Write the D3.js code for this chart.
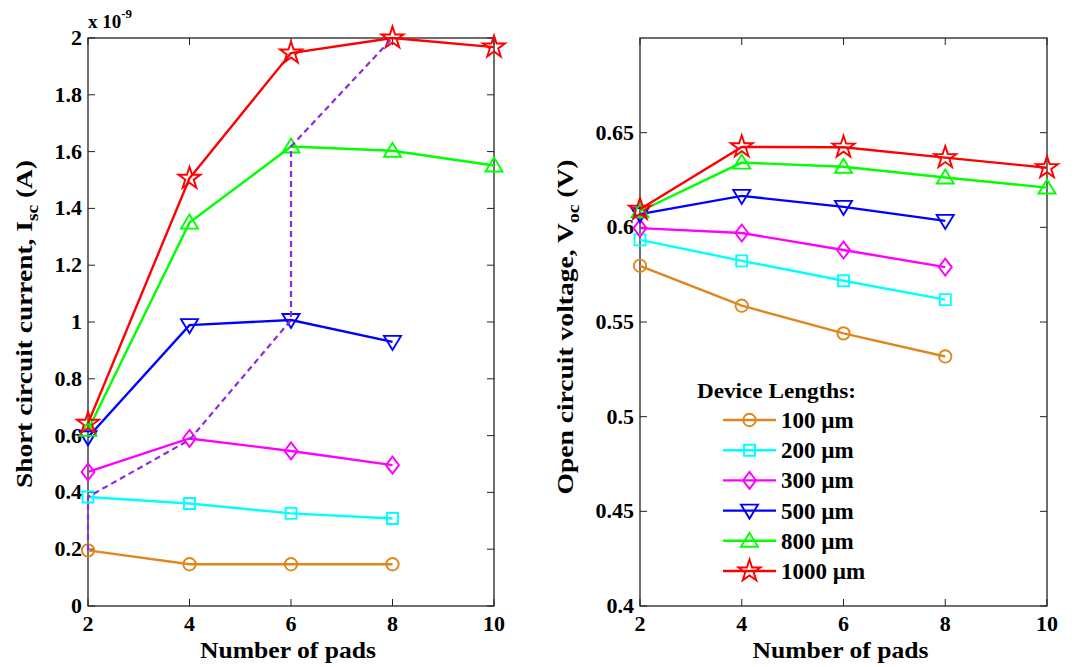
<html>
<head>
<meta charset="utf-8">
<script src="https://cdn.jsdelivr.net/npm/d3@7"></script>
<style>
  body { margin: 0; background: #fff; }
</style>
</head>
<body>
<div id="chart"></div>
<script>
// x values (number of pads)
var pads = [2, 4, 6, 8, 10];
var deviceLengths = ["100 \u00b5m", "200 \u00b5m", "300 \u00b5m", "500 \u00b5m", "800 \u00b5m", "1000 \u00b5m"];
var colors = ["#e0861c", "#00ffff", "#ff00ff", "#0000ff", "#00ff00", "#ff0000"];
var shapes = ["circle", "square", "diamond", "down", "up", "star"];

// short circuit current (x 1e-9 A)
var isc100 = [0.196, 0.147, 0.147, 0.147];
var isc200 = [0.384, 0.361, 0.326, 0.308];
var isc300 = [0.472, 0.590, 0.546, 0.496];
var isc500 = [0.594, 0.989, 1.007, 0.930];
var isc800 = [0.620, 1.350, 1.618, 1.603, 1.551];
var isc1000 = [0.643, 1.506, 1.947, 2.000, 1.968];

// dashed path through the best points
var iscPathX = [2, 2, 4, 6, 6, 8];
var iscPathY = [0.196, 0.384, 0.585, 1.007, 1.618, 2.000];

// open circuit voltage (V)
var voc100 = [0.5797, 0.5586, 0.5440, 0.5318];
var voc200 = [0.5934, 0.5823, 0.5718, 0.5618];
var voc300 = [0.5996, 0.5970, 0.5880, 0.5790];
var voc500 = [0.6070, 0.6166, 0.6108, 0.6034];
var voc800 = [0.6085, 0.6342, 0.6320, 0.6263, 0.6210];
var voc1000 = [0.6095, 0.6425, 0.6423, 0.6368, 0.6315];

var iscTicks = [0, 0.2, 0.4, 0.6, 0.8, 1, 1.2, 1.4, 1.6, 1.8, 2];
var vocTicks = [0.4, 0.45, 0.5, 0.55, 0.6, 0.65];
var xTicks = [2, 4, 6, 8, 10];

var svg = d3.select("#chart").append("svg")
  .attr("width", 1080).attr("height", 667)
  .style("font-family", "'Liberation Serif', 'DejaVu Serif', 'Times New Roman', serif")
  .style("font-weight", "bold");

function markerPath(shape) {
  if (shape == "star") return d3.symbol(d3.symbolStar, 150)();
  if (shape == "square") return "M-5.5,-5.5L5.5,-5.5L5.5,5.5L-5.5,5.5Z";
  if (shape == "diamond") return "M0,-8.5L6.5,0L0,8.5L-6.5,0Z";
  if (shape == "down") return "M-8.5,-6L8.5,-6L0,8Z";
  if (shape == "up") return "M-8.5,6L8.5,6L0,-8Z";
  return d3.symbol(d3.symbolCircle, 120)();
}

function drawPanel(opts) {
  var x = d3.scaleLinear().domain([2, 10]).range([opts.left, opts.right]);
  var y = d3.scaleLinear().domain(opts.yDomain).range([606, 38]);
  var g = svg.append("g");

  // box
  g.append("rect")
    .attr("x", x(2)).attr("y", y.range()[1])
    .attr("width", x(10) - x(2)).attr("height", 606 - 38)
    .attr("fill", "none").attr("stroke", "#222").attr("stroke-width", 1.3);

  // inward ticks on all four sides
  xTicks.forEach(function (t) {
    g.append("line").attr("x1", x(t)).attr("x2", x(t)).attr("y1", 606).attr("y2", 599)
      .attr("stroke", "#222");
    g.append("line").attr("x1", x(t)).attr("x2", x(t)).attr("y1", 38).attr("y2", 45)
      .attr("stroke", "#222");
    g.append("text").attr("x", x(t)).attr("y", 631)
      .attr("text-anchor", "middle").style("font-size", "22px").text(t);
  });
  opts.yTicks.forEach(function (t) {
    g.append("line").attr("x1", x(2)).attr("x2", x(2) + 7).attr("y1", y(t)).attr("y2", y(t))
      .attr("stroke", "#222");
    g.append("line").attr("x1", x(10)).attr("x2", x(10) - 7).attr("y1", y(t)).attr("y2", y(t))
      .attr("stroke", "#222");
    g.append("text").attr("x", x(2) - 6).attr("y", y(t) + 7)
      .attr("text-anchor", "end").style("font-size", "22px").text(t);
  });

  // series
  var line = d3.line().x(function (d) { return x(d[0]); }).y(function (d) { return y(d[1]); });
  opts.series.forEach(function (vals, i) {
    var pts = vals.map(function (v, j) { return [pads[j], v]; });
    g.append("path").attr("d", line(pts))
      .attr("fill", "none").attr("stroke", colors[i]).attr("stroke-width", 2.4);
    pts.forEach(function (p) {
      g.append("path").attr("d", markerPath(shapes[i]))
        .attr("transform", "translate(" + x(p[0]) + "," + y(p[1]) + ")")
        .attr("fill", "none").attr("stroke", colors[i]).attr("stroke-width", 1.9);
    });
  });

  if (opts.path) {
    var pts = opts.path[0].map(function (v, j) { return [v, opts.path[1][j]]; });
    g.append("path").attr("d", line(pts))
      .attr("fill", "none").attr("stroke", "#8a2be2").attr("stroke-width", 2.2)
      .attr("stroke-dasharray", "6,4");
  }

  // axis titles
  g.append("text").attr("x", (x(2) + x(10)) / 2 - 3).attr("y", 658)
    .attr("text-anchor", "middle").style("font-size", "24px")
    .attr("textLength", 176).attr("lengthAdjust", "spacingAndGlyphs")
    .text("Number of pads");

  var yl = g.append("text")
    .attr("transform", "translate(" + opts.labelX + "," + opts.labelY + ") rotate(-90)")
    .attr("text-anchor", "middle").style("font-size", "24px")
    .attr("textLength", opts.labelLen).attr("lengthAdjust", "spacingAndGlyphs");
  yl.append("tspan").text(opts.label[0]);
  yl.append("tspan").attr("dy", 6).style("font-size", "17px").text(opts.label[1]);
  yl.append("tspan").attr("dy", -6).text(opts.label[2]);
  return { x: x, y: y };
}

drawPanel({
  left: 88, right: 494, yDomain: [0, 2], yTicks: iscTicks,
  series: [isc100, isc200, isc300, isc500, isc800, isc1000],
  path: [iscPathX, iscPathY],
  labelX: 32, labelY: 324, labelLen: 328, label: ["Short circuit current, I", "sc", " (A)"]
});

// exponent label
var ex = svg.append("text").attr("x", 88).attr("y", 28).style("font-size", "19px");
ex.append("tspan").text("x 10");
ex.append("tspan").attr("dy", -10).style("font-size", "13px").text("-9");

drawPanel({
  left: 640, right: 1047, yDomain: [0.4, 0.7], yTicks: vocTicks,
  series: [voc100, voc200, voc300, voc500, voc800, voc1000],
  labelX: 573, labelY: 327, labelLen: 335, label: ["Open circuit voltage, V", "oc", " (V)"]
});

// legend
var lg = svg.append("g");
lg.append("text").attr("x", 697).attr("y", 398).style("font-size", "22px")
  .attr("textLength", 159).attr("lengthAdjust", "spacingAndGlyphs").text("Device Lengths:");
deviceLengths.forEach(function (name, i) {
  var cy = 420 + i * 30.2;
  lg.append("line").attr("x1", 723).attr("x2", 776).attr("y1", cy).attr("y2", cy)
    .attr("stroke", colors[i]).attr("stroke-width", 2.4);
  lg.append("path").attr("d", markerPath(shapes[i]))
    .attr("transform", "translate(749.5," + cy + ")")
    .attr("fill", "none").attr("stroke", colors[i]).attr("stroke-width", 1.9);
  lg.append("text").attr("x", 781).attr("y", cy + 8).style("font-size", "23px").text(name);
});
</script>
</body>
</html>
